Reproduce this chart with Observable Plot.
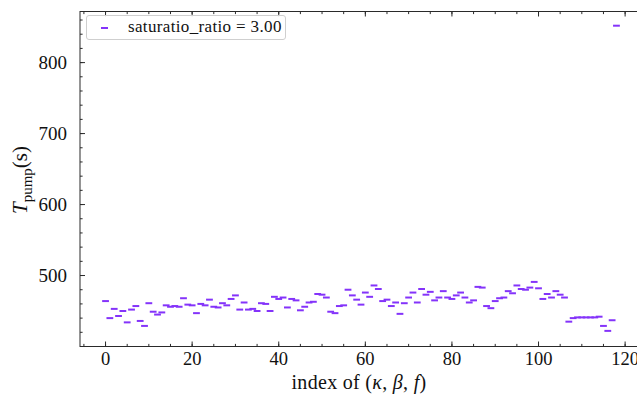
<!DOCTYPE html>
<html>
<head>
<meta charset="utf-8">
<script src="https://cdn.jsdelivr.net/npm/d3@7"></script>
<script src="https://cdn.jsdelivr.net/npm/@observablehq/plot@0.6"></script>
<style>
  html, body { margin: 0; padding: 0; background: #fff; }
  #wrap { position: relative; width: 637px; height: 409px; overflow: hidden; background: #fff; font-family: "Liberation Serif", "DejaVu Serif", serif; color: #111; }
  #legend { position: absolute; left: 86px; top: 15px; width: 200px; height: 25px; border: 1px solid #cfcfcf; border-radius: 3px; background: rgba(255,255,255,0.85); box-sizing: border-box; }
  #legend .mk { position: absolute; left: 14px; top: 11px; width: 7px; height: 2px; background: #8433fa; }
  #legend .tx { position: absolute; left: 41px; top: 1px; font-size: 17px; letter-spacing: 0.35px; line-height: 20px; white-space: nowrap; }
  #xlabel { position: absolute; left: 0; width: 718px; text-align: center; top: 371px; font-size: 20px; letter-spacing: 0.3px; white-space: nowrap; }
  #ylabel { position: absolute; left: 22px; top: 180px; transform: translate(-50%, -50%) rotate(-90deg); font-size: 21px; white-space: nowrap; }
  #ylabel sub { font-size: 15px; vertical-align: -5px; }
</style>
</head>
<body>
<div id="wrap">
  <div id="chart"></div>
  <div id="legend"><div class="mk"></div><div class="tx">saturatio_ratio = 3.00</div></div>
  <div id="xlabel">index of (<i>κ</i>, <i>β</i>, <i>f</i>)</div>
  <div id="ylabel"><i>T</i><sub>pump</sub>(s)</div>
</div>
<script>
// index of (kappa, beta, f)
const indices = d3.range(0, 119);
// T_pump (s) values
const tpump = [
  464, 440, 453, 443, 450, 434, 452, 457, 436, 429,
  461, 449, 445, 448, 458, 456, 457, 456, 468, 459,
  458, 447, 460, 458, 466, 456, 455, 461, 458, 467,
  472, 452, 462, 452, 453, 450, 461, 460, 450, 470,
  467, 469, 455, 467, 465, 451, 456, 462, 463, 474,
  473, 469, 449, 447, 457, 458, 480, 472, 466, 459,
  476, 470, 486, 481, 464, 466, 457, 462, 446, 461,
  469, 476, 462, 481, 473, 477, 465, 469, 478, 469,
  467, 472, 476, 469, 462, 465, 484, 483, 457, 454,
  464, 468, 469, 478, 475, 486, 481, 480, 483, 491,
  482, 467, 474, 469, 478, 473, 469, 435, 440, 441,
  441, 441, 441, 441, 442, 429, 422, 437, 852
];
const seriesLabel = "saturatio_ratio = 3.00";
const xMajor = [0, 20, 40, 60, 80, 100, 120];
const xMinor = d3.range(-5, 125, 5);
const yMajor = [500, 600, 700, 800];
const yMinor = d3.range(400, 880, 20);

const data = indices.map((i, k) => ({i, t: tpump[k]}));

const dash = {draw(ctx, size) { const r = Math.sqrt(size / Math.PI); ctx.moveTo(-r, 0); ctx.lineTo(r, 0); }};
const tickSym = (dx, dy) => ({draw(ctx, size) { const l = Math.sqrt(size / Math.PI); ctx.moveTo(0, 0); ctx.lineTo(dx * l, dy * l); }});
const axisColor = "#2a2a2a";
const tickMarks = (vals, anchor, sym, len) => Plot.dot(vals, {
  [anchor === "top" || anchor === "bottom" ? "x" : "y"]: d => d,
  frameAnchor: anchor, symbol: sym, r: len, fill: "none", stroke: axisColor, strokeWidth: 1
});

const chart = Plot.plot({
  width: 637,
  height: 409,
  marginLeft: 79.5,
  marginRight: -4.5,
  marginTop: 11,
  marginBottom: 63,
  x: {domain: [-5.9, 123.9]},
  y: {domain: [400, 872]},
  style: {fontFamily: "'Liberation Serif', 'DejaVu Serif', serif", fontSize: "19px", background: "transparent", color: "#111"},
  marks: [
    Plot.frame({stroke: axisColor, strokeWidth: 1}),
    tickMarks(xMinor, "bottom", tickSym(0, -1), 2.6),
    tickMarks(xMajor, "bottom", tickSym(0, -1), 5),
    tickMarks(xMinor, "top", tickSym(0, 1), 2.6),
    tickMarks(xMajor, "top", tickSym(0, 1), 5),
    tickMarks(yMinor, "left", tickSym(1, 0), 2.6),
    tickMarks(yMajor, "left", tickSym(1, 0), 5),
    tickMarks(yMinor, "right", tickSym(-1, 0), 2.6),
    tickMarks(yMajor, "right", tickSym(-1, 0), 5),
    Plot.axisX(xMajor, {tickSize: 0, tickPadding: 5, label: null, fontSize: 18.5}),
    Plot.axisY(yMajor, {tickSize: 0, tickPadding: 13, label: null, fontSize: 19}),
    Plot.dot(data, {x: "i", y: "t", symbol: dash, r: 3.4, fill: "none", stroke: "#8433fa", strokeWidth: 2, title: () => seriesLabel})
  ]
});
document.getElementById("chart").appendChild(chart);
</script>
</body>
</html>
